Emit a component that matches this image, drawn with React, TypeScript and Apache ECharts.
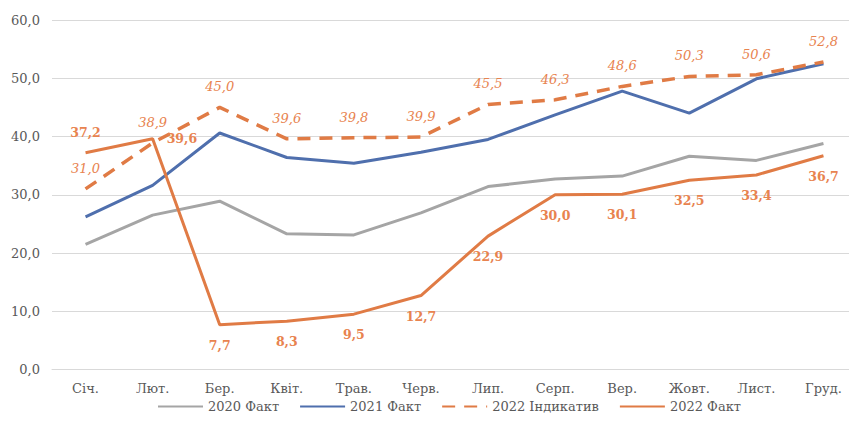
import React, { useEffect, useRef } from "react";
import * as echarts from "echarts";

const categories = ["Січ.", "Лют.", "Бер.", "Квіт.", "Трав.", "Черв.", "Лип.", "Серп.", "Вер.", "Жовт.", "Лист.", "Груд."];
const fact2020 = [21.5, 26.5, 28.9, 23.3, 23.1, 26.9, 31.4, 32.7, 33.2, 36.6, 35.9, 38.8];
const fact2021 = [26.2, 31.6, 40.6, 36.4, 35.4, 37.3, 39.5, 43.7, 47.8, 44.0, 49.9, 52.5];
const indicator2022 = [31.0, 38.9, 45.0, 39.6, 39.8, 39.9, 45.5, 46.3, 48.6, 50.3, 50.6, 52.8];
const fact2022 = [37.2, 39.6, 7.7, 8.3, 9.5, 12.7, 22.9, 30.0, 30.1, 32.5, 33.4, 36.7];
const fact2022LabelPos = ["top", "right", "bottom", "bottom", "bottom", "bottom", "bottom", "bottom", "bottom", "bottom", "bottom", "bottom"];
const seriesNames = ["2020 Факт", "2021 Факт", "2022 Індикатив", "2022 Факт"];

const FONT = "DejaVu Serif";
const FS = 13;
const GREY = "#A5A5A5";
const BLUE = "#4F6FAD";
const ORANGE = "#E07B45";
const LABEL_ORANGE = "#E8834F";

const fmt = (v: number) => v.toFixed(1).replace(".", ",");

export default function App() {
  const ref = useRef<HTMLDivElement>(null);
  useEffect(() => {
    if (!ref.current) return;
    const chart = echarts.init(ref.current, null, { renderer: "svg" });
    const hiddenSymbol = { symbol: "circle", symbolSize: 0.01, showSymbol: true };
    chart.setOption({
      animation: false,
      backgroundColor: "#ffffff",
      textStyle: { fontFamily: FONT },
      grid: { left: 52, top: 20, width: 818, height: 349.5, containLabel: false },
      legend: {
        left: 152,
        bottom: 12,
        itemWidth: 45,
        itemHeight: 12,
        itemGap: 20,
        itemStyle: { opacity: 0 },
        textStyle: { fontFamily: FONT, fontSize: FS, color: "#595959" },
        data: seriesNames,
      },
      xAxis: {
        type: "category",
        data: categories,
        boundaryGap: true,
        axisLine: { show: true, lineStyle: { color: "#D9D9D9", width: 1 } },
        axisTick: { show: false },
        axisLabel: { fontFamily: FONT, fontSize: FS, color: "#595959", margin: 12 },
      },
      yAxis: {
        type: "value",
        min: 0,
        max: 60,
        interval: 10,
        axisLine: { show: false },
        axisTick: { show: false },
        splitLine: { lineStyle: { color: "#D9D9D9", width: 1 } },
        axisLabel: {
          fontFamily: FONT,
          fontSize: FS,
          color: "#595959",
          margin: 12,
          formatter: (v: number) => fmt(v),
        },
      },
      series: [
        {
          name: seriesNames[0],
          type: "line",
          data: fact2020,
          ...hiddenSymbol,
          lineStyle: { color: GREY, width: 3 },
          itemStyle: { color: GREY },
          z: 2,
        },
        {
          name: seriesNames[1],
          type: "line",
          data: fact2021,
          ...hiddenSymbol,
          lineStyle: { color: BLUE, width: 3 },
          itemStyle: { color: BLUE },
          z: 3,
        },
        {
          name: seriesNames[2],
          type: "line",
          data: indicator2022,
          ...hiddenSymbol,
          lineStyle: { color: ORANGE, width: 3.5, type: [13, 9] },
          itemStyle: { color: ORANGE },
          label: {
            show: true,
            position: "top",
            distance: 14,
            fontFamily: FONT,
            fontSize: FS,
            fontStyle: "italic",
            color: LABEL_ORANGE,
            formatter: (p: any) => fmt(p.value),
          },
          z: 4,
        },
        {
          name: seriesNames[3],
          type: "line",
          data: fact2022.map((v, i) => ({
            value: v,
            label: { position: fact2022LabelPos[i] },
          })),
          ...hiddenSymbol,
          lineStyle: { color: ORANGE, width: 3 },
          itemStyle: { color: ORANGE },
          label: {
            show: true,
            distance: 14,
            fontFamily: FONT,
            fontSize: 12.5,
            fontWeight: "bold",
            color: LABEL_ORANGE,
            formatter: (p: any) => fmt(p.value),
          },
          z: 5,
        },
      ],
    });
    return () => chart.dispose();
  }, []);
  return <div ref={ref} style={{ width: 857, height: 430, margin: -8 }} />;
}
